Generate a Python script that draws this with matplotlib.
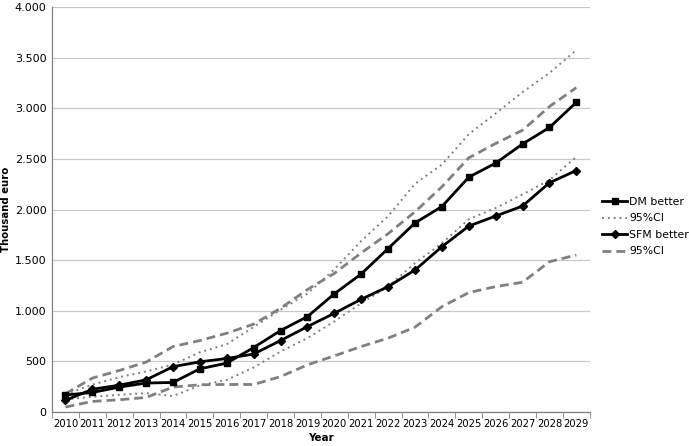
import numpy as np
import matplotlib
matplotlib.use("Agg")
import matplotlib.pyplot as plt
from matplotlib.ticker import FuncFormatter

years = list(range(2010, 2030))

dm_better = [168, 193, 246, 286, 292, 427, 483, 637, 805, 943,
             1168, 1364, 1615, 1868, 2030, 2320, 2459, 2648, 2811, 3060]
dm_ci_upper = [175, 270, 345, 400, 470, 590, 670, 840, 1010, 1170,
               1410, 1690, 1935, 2255, 2445, 2745, 2950, 3160, 3350, 3575]
dm_ci_lower = [125, 150, 170, 187, 158, 262, 318, 440, 598, 730,
               895, 1075, 1239, 1470, 1667, 1905, 2015, 2150, 2291, 2521]

sfm_better = [115, 225, 265, 318, 448, 496, 529, 573, 706, 844,
              976, 1114, 1239, 1403, 1633, 1837, 1936, 2035, 2265, 2386]
sfm_ci_upper = [180, 335, 410, 493, 647, 706, 779, 868, 1025, 1210,
                1370, 1572, 1762, 1978, 2225, 2511, 2653, 2784, 3018, 3205]
sfm_ci_lower = [49, 105, 121, 144, 246, 269, 272, 272, 350, 466,
                555, 647, 730, 838, 1041, 1180, 1239, 1282, 1485, 1551]

fig = plt.figure(figsize=(6.89, 4.46), dpi=100)
ax = fig.add_axes([0.0755, 0.0762, 0.7805, 0.9078])

x = np.arange(len(years))
grey = '#808080'

ax.plot(x, dm_better, color='black', lw=2, marker='s', ms=5, label='DM better', zorder=5)
ax.plot(x, dm_ci_upper, color=grey, lw=1.4, ls=(0, (1, 2)), label='95%CI', zorder=3)
ax.plot(x, sfm_better, color='black', lw=2, marker='D', ms=3.8, label='SFM better', zorder=5)
ax.plot(x, sfm_ci_upper, color=grey, lw=2, ls=(0, (3.2, 1.8)), label='95%CI', zorder=3)
ax.plot(x, dm_ci_lower, color=grey, lw=1.4, ls=(0, (1, 2)), zorder=3)
ax.plot(x, sfm_ci_lower, color=grey, lw=2, ls=(0, (3.2, 1.8)), zorder=3)

ax.set_xlim(-0.5, len(years) - 0.5)
ax.set_ylim(0, 4000)
ax.set_yticks(np.arange(0, 4001, 500))
ax.yaxis.set_major_formatter(FuncFormatter(lambda v, p: f"{int(v):,}".replace(',', '.')))
ax.set_xticks(x)
ax.set_xticklabels([str(y) for y in years])
ax.set_xticks(np.arange(-0.5, len(years), 1), minor=True)
ax.tick_params(axis='x', which='major', length=0, labelsize=7.2, pad=5)
ax.tick_params(axis='x', which='minor', length=4, color=grey, direction='out')
ax.tick_params(axis='y', length=0, labelsize=8, pad=4)

ax.grid(axis='y', color='#c8c8c8', lw=0.9)
ax.set_axisbelow(True)
for s in ['top', 'right']:
    ax.spines[s].set_visible(False)
for s in ['left', 'bottom']:
    ax.spines[s].set_color(grey)
    ax.spines[s].set_linewidth(0.9)

ax.set_xlabel('Year', fontsize=7.5, fontweight='bold')
ax.xaxis.set_label_coords(0.5, -0.052)
ax.set_ylabel('Thousand euro', fontsize=7.3, fontweight='bold')
ax.yaxis.set_label_coords(-0.077, 0.5)

leg = ax.legend(loc='center left', bbox_to_anchor=(1.005, 0.458), frameon=False,
                fontsize=7.8, handlelength=2.3, handletextpad=0.2, labelspacing=0.6)

fig.savefig('out.png', dpi=100)
